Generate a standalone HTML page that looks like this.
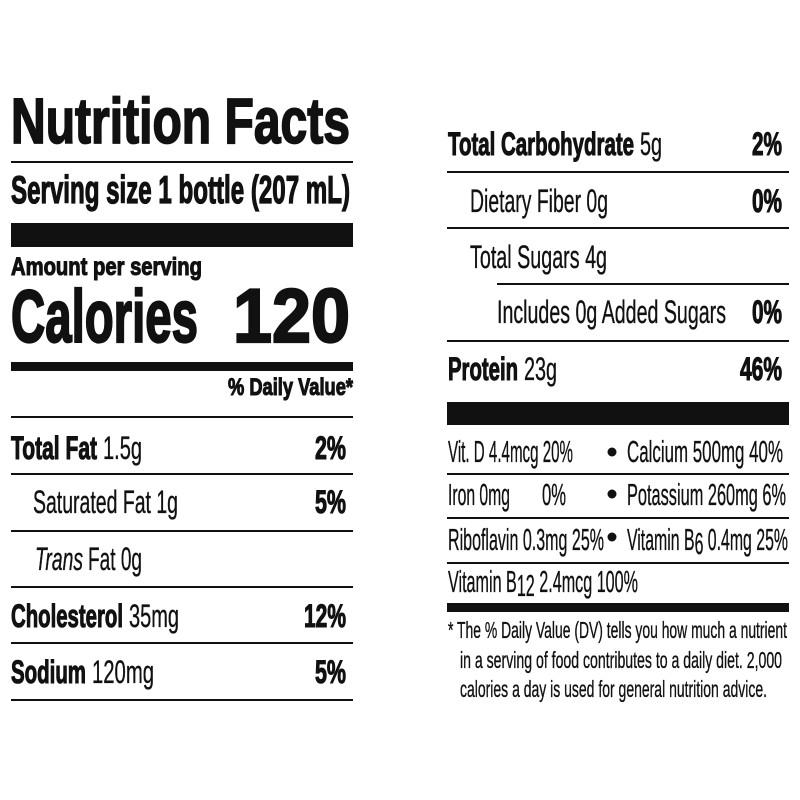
<!DOCTYPE html>
<html><head><meta charset="utf-8"><style>
html,body{margin:0;padding:0;background:#fff;width:800px;height:800px;overflow:hidden}
svg{display:block}
text{font-family:"Liberation Sans",sans-serif;fill:#111;stroke:#111;stroke-width:0.35}
.b{font-weight:bold;stroke-width:1.1}
.h{font-weight:bold;stroke-width:1.8}
</style></head><body>
<svg width="800" height="800" viewBox="0 0 800 800" xmlns="http://www.w3.org/2000/svg">
<g fill="#111">
<rect x="11" y="161" width="342" height="2"/>
<rect x="11" y="223" width="342" height="24"/>
<rect x="11" y="362" width="342" height="9"/>
<rect x="11" y="416" width="342" height="2"/>
<rect x="11" y="473" width="342" height="2"/>
<rect x="11" y="530" width="342" height="2"/>
<rect x="11" y="586" width="342" height="2"/>
<rect x="11" y="642" width="342" height="2"/>
<rect x="11" y="699" width="342" height="2"/>
<rect x="447" y="171" width="342" height="2"/>
<rect x="447" y="227" width="342" height="2"/>
<rect x="497" y="283" width="292" height="2"/>
<rect x="447" y="340" width="342" height="2"/>
<rect x="447" y="402" width="342" height="23"/>
<rect x="447" y="473" width="342" height="2"/>
<rect x="447" y="517" width="342" height="2"/>
<rect x="447" y="562" width="342" height="2"/>
<rect x="447" y="603" width="342" height="9"/>
<circle cx="612" cy="452" r="4.5"/>
<circle cx="612" cy="494" r="4.5"/>
<circle cx="612" cy="537" r="4.5"/>
</g>
<text class="h" x="11" y="143" font-size="64" textLength="339" lengthAdjust="spacingAndGlyphs">Nutrition Facts</text>
<text class="h" x="11" y="203" font-size="39" textLength="339" lengthAdjust="spacingAndGlyphs" style="stroke-width:1.3">Serving size 1 bottle (207 mL)</text>
<text class="b" x="11" y="275" font-size="25" textLength="191" lengthAdjust="spacingAndGlyphs">Amount per serving</text>
<text class="h" x="11" y="342" font-size="74" textLength="187" lengthAdjust="spacingAndGlyphs" style="stroke-width:2.2">Calories</text>
<text class="h" x="233" y="342" font-size="76" textLength="117" lengthAdjust="spacingAndGlyphs" style="stroke-width:2.2">120</text>
<text class="b" x="228" y="395" font-size="24" textLength="125" lengthAdjust="spacingAndGlyphs">% Daily Value*</text>

<text class="b" x="11" y="459" font-size="32" textLength="86" lengthAdjust="spacingAndGlyphs">Total Fat</text>
<text x="103" y="459" font-size="32" textLength="39" lengthAdjust="spacingAndGlyphs">1.5g</text>
<text class="b" x="315" y="459" font-size="32" textLength="31" lengthAdjust="spacingAndGlyphs">2%</text>

<text x="33" y="513" font-size="32" textLength="145" lengthAdjust="spacingAndGlyphs">Saturated Fat 1g</text>
<text class="b" x="315" y="513" font-size="32" textLength="31" lengthAdjust="spacingAndGlyphs">5%</text>

<text x="35" y="570" font-size="32" font-style="italic" textLength="48" lengthAdjust="spacingAndGlyphs">Trans</text>
<text x="88" y="570" font-size="32" textLength="54" lengthAdjust="spacingAndGlyphs">Fat 0g</text>

<text class="b" x="11" y="627" font-size="32" textLength="112" lengthAdjust="spacingAndGlyphs">Cholesterol</text>
<text x="129" y="627" font-size="32" textLength="50" lengthAdjust="spacingAndGlyphs">35mg</text>
<text class="b" x="304" y="627" font-size="32" textLength="42" lengthAdjust="spacingAndGlyphs">12%</text>

<text class="b" x="11" y="683" font-size="32" textLength="75" lengthAdjust="spacingAndGlyphs">Sodium</text>
<text x="92" y="683" font-size="32" textLength="62" lengthAdjust="spacingAndGlyphs">120mg</text>
<text class="b" x="315" y="683" font-size="32" textLength="31" lengthAdjust="spacingAndGlyphs">5%</text>

<text class="b" x="448" y="155" font-size="32" textLength="186" lengthAdjust="spacingAndGlyphs">Total Carbohydrate</text>
<text x="640" y="155" font-size="32" textLength="22" lengthAdjust="spacingAndGlyphs">5g</text>
<text class="b" x="752" y="155" font-size="32" textLength="30" lengthAdjust="spacingAndGlyphs">2%</text>

<text x="470" y="212" font-size="32" textLength="138" lengthAdjust="spacingAndGlyphs">Dietary Fiber 0g</text>
<text class="b" x="752" y="212" font-size="32" textLength="30" lengthAdjust="spacingAndGlyphs">0%</text>

<text x="470" y="268" font-size="32" textLength="137" lengthAdjust="spacingAndGlyphs">Total Sugars 4g</text>

<text x="497" y="323" font-size="32" textLength="229" lengthAdjust="spacingAndGlyphs">Includes 0g Added Sugars</text>
<text class="b" x="752" y="323" font-size="32" textLength="30" lengthAdjust="spacingAndGlyphs">0%</text>

<text class="b" x="448" y="380" font-size="32" textLength="70" lengthAdjust="spacingAndGlyphs">Protein</text>
<text x="524" y="380" font-size="32" textLength="33" lengthAdjust="spacingAndGlyphs">23g</text>
<text class="b" x="740" y="380" font-size="32" textLength="42" lengthAdjust="spacingAndGlyphs">46%</text>

<text x="448" y="462" font-size="31" textLength="125" lengthAdjust="spacingAndGlyphs">Vit. D 4.4mcg 20%</text>
<text x="627" y="462" font-size="31" textLength="156" lengthAdjust="spacingAndGlyphs">Calcium 500mg  40%</text>

<text x="448" y="505" font-size="31" textLength="62" lengthAdjust="spacingAndGlyphs">Iron 0mg</text>
<text x="542" y="505" font-size="31" textLength="24" lengthAdjust="spacingAndGlyphs">0%</text>
<text x="627" y="505" font-size="31" textLength="159" lengthAdjust="spacingAndGlyphs">Potassium 260mg 6%</text>

<text x="448" y="550" font-size="31" textLength="156" lengthAdjust="spacingAndGlyphs">Riboflavin 0.3mg 25%</text>
<text x="627" y="550" font-size="31" textLength="161" lengthAdjust="spacingAndGlyphs">Vitamin B<tspan dy="4">6</tspan><tspan dy="-4"> 0.4mg 25%</tspan></text>

<text x="448" y="592" font-size="31" textLength="190" lengthAdjust="spacingAndGlyphs">Vitamin B<tspan dy="4">12</tspan><tspan dy="-4"> 2.4mcg 100%</tspan></text>

<text x="448" y="638" font-size="23" textLength="339" lengthAdjust="spacingAndGlyphs">* The % Daily Value (DV) tells you how much a nutrient</text>
<text x="460" y="668" font-size="23" textLength="322" lengthAdjust="spacingAndGlyphs">in a serving of food contributes to a daily diet. 2,000</text>
<text x="460" y="697" font-size="23" textLength="307" lengthAdjust="spacingAndGlyphs">calories a day is used for general nutrition advice.</text>
</svg>
</body></html>
